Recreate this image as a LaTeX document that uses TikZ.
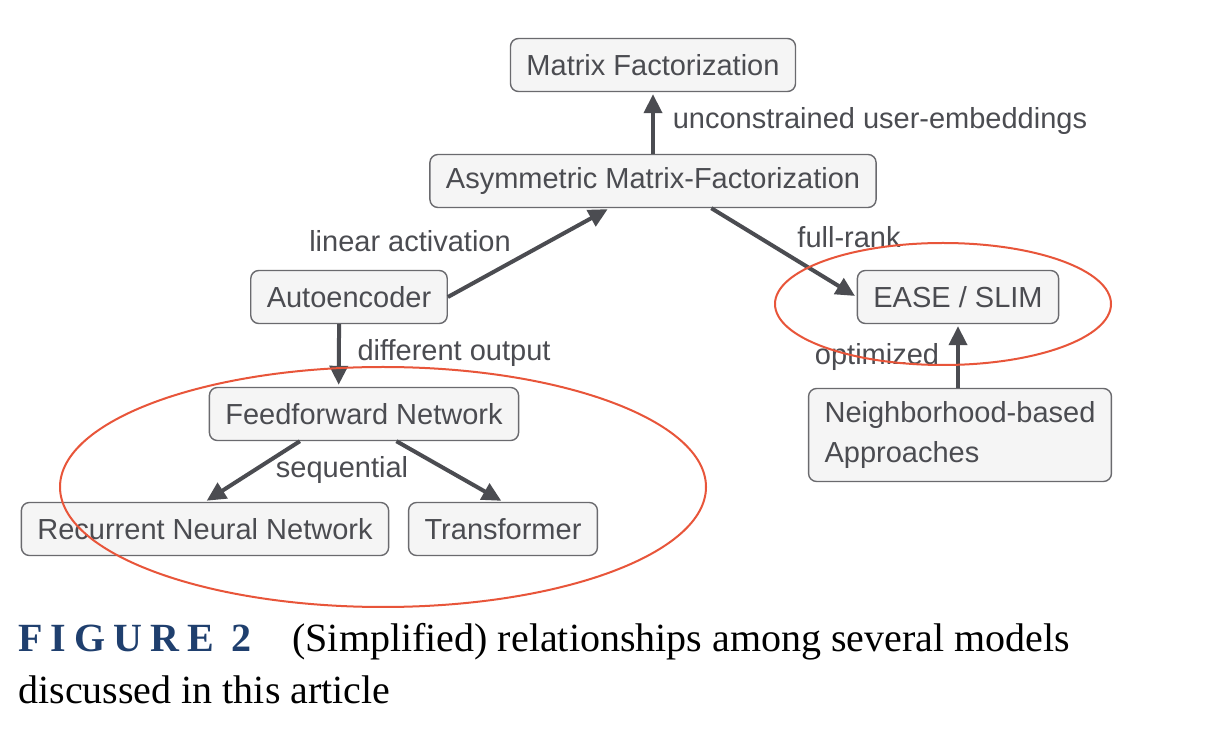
\documentclass[tikz,border=0pt]{standalone}
\usepackage{fontspec}
\setmainfont{Liberation Serif}
\newfontfamily\diagfont{Liberation Sans}
\usetikzlibrary{arrows.meta}
\definecolor{inkgray}{HTML}{4B4C51}
\definecolor{boxfill}{HTML}{F5F5F5}
\definecolor{boxline}{HTML}{6A6A6E}
\definecolor{ringred}{HTML}{E8553A}
\definecolor{capblue}{HTML}{1F3F6E}
\tikzset{
  model/.style={draw=boxline, line width=0.7pt, fill=boxfill, rounded corners=4pt,
    text=inkgray, font=\diagfont\fontsize{14.5}{20}\selectfont,
    minimum height=26.5pt, inner xsep=8pt},
  rel/.style={text=inkgray, font=\diagfont\fontsize{14.5}{20}\selectfont},
  link/.style={draw=inkgray, line width=2pt, -{Triangle[length=9.5pt,width=9pt]}, shorten >=1pt},
  ring/.style={draw=ringred, line width=1pt},
  captxt/.style={anchor=base west, inner sep=0pt, font=\fontsize{20}{25.5}\selectfont}
}

\begin{document}
\begin{tikzpicture}[x=0.5pt,y=-0.5pt]
        \useasboundingbox[fill=white] (0,0) rectangle (1226,742);
        % models
        \node[model] (mf) at (653,65) {Matrix Factorization};
        \node[model] (amf) at (653,181) {Asymmetric Matrix-Factorization};
        \node[model] (ae) at (349,297) {Autoencoder};
        \node[model] (ease) at (958,297) {EASE / SLIM};
        \node[model] (ff) at (364,414) {Feedforward Network};
        \node[model] (rnn) at (205,529) {Recurrent Neural Network};
        \node[model] (tr) at (503,529) {Transformer};
        \node[model, align=left, minimum height=46.5pt] (nb) at (960,435) {Neighborhood-based\\Approaches};
        % relations
        \draw[link] (amf.north) -- (mf.south);
        \draw[link] (ae.east) -- (amf.212);
        \draw[link] (amf.335) -- (ease.west);
        \draw[link] (ae.250) -- (ff.133);
        \draw[link] (ff.203) -- (rnn.north);
        \draw[link] (ff.320) -- (tr.north);
        \draw[link] (nb.north -| ease.south) -- (ease.south);
        \node[rel] (l-unc) at (880,121) {unconstrained user-embeddings};
        \node[rel] (l-lin) at (410,241) {linear activation};
        \node[rel] (l-full) at (849,237) {full-rank};
        \node[rel] (l-diff) at (454,353) {different output};
        \node[rel] (l-seq) at (342,470) {sequential};
        \node[rel] (l-opt) at (877,357) {optimized};
        % highlighted groups
        \draw[ring] (383,487) ellipse [x radius=161.5pt, y radius=60pt];
        \draw[ring] (943,304) ellipse [x radius=84pt, y radius=30.5pt];
        % caption
        \node[captxt, text=capblue] (figlbl) at (18,652) {\bfseries\addfontfeature{LetterSpace=20}FIGURE 2};
        \node[captxt] (cap1) at (292,652) {(Simplified) relationships among several models};
        \node[captxt] (cap2) at (18,704) {discussed in this article};
      \end{tikzpicture}
\end{document}
